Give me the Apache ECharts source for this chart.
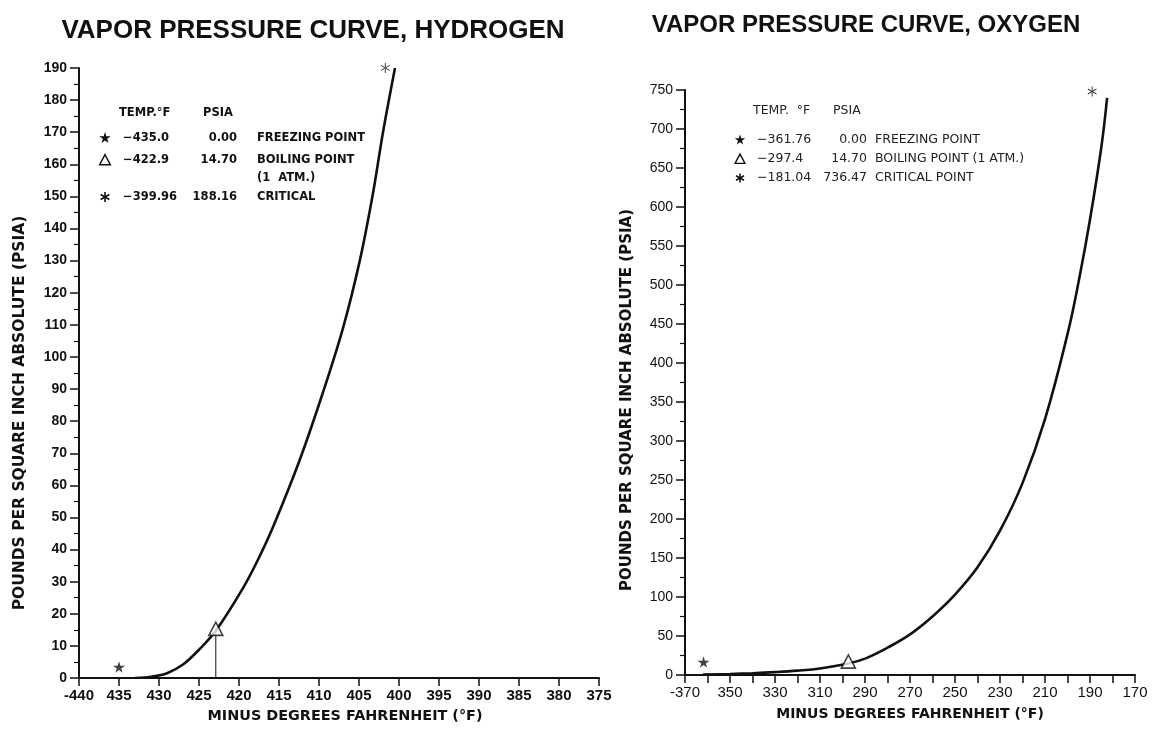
<!DOCTYPE html>
<html>
<head>
<meta charset="utf-8">
<script src="https://cdn.jsdelivr.net/npm/echarts@6/dist/echarts.min.js"></script>
<style>
  html, body { margin: 0; padding: 0; background: #ffffff; }
  #chart { width: 1154px; height: 734px; }
</style>
</head>
<body>
<div id="chart"></div>
<script>
// ---- Hydrogen vapor pressure curve (temperature °F, pressure psia) ----
const h2CurveTemp = [-433, -431, -429, -427, -425, -422.9, -419.5, -417.5, -415.75, -412.4, -409.5, -407, -404.9, -403.25, -402, -400.5];
const h2CurvePsia = [0, 0.4, 1.5, 4.2, 8.8, 14.7, 28, 37.5, 47, 68, 89, 109, 130, 151, 170, 190];

// ---- Oxygen vapor pressure curve ----
const o2CurveTemp = [-362, -350, -340, -330, -320, -310, -297.4, -290, -280, -270, -260, -250, -240, -230, -220, -210, -200, -195, -190, -185, -182.4];
const o2CurvePsia = [0.5, 1.3, 2.3, 3.7, 5.6, 8.4, 14.7, 21, 35, 52, 75, 103, 138, 185, 246, 328, 437, 505, 584, 676, 740];

// ---- Reference points: [temperature °F, psia] ----
const h2Freezing = [-435.0, 0.00];
const h2Boiling = [-422.9, 14.70];
const h2Critical = [-399.96, 188.16];
const o2Freezing = [-361.76, 0.00];
const o2Boiling = [-297.4, 14.70];
const o2Critical = [-181.04, 736.47];

// ---- Key table text ----
const h2KeyHeader = ['TEMP.°F', 'PSIA'];
const h2KeyRows = [
  ['star', '\u2212435.0', '0.00', 'FREEZING POINT'],
  ['triangle', '\u2212422.9', '14.70', 'BOILING POINT'],
  ['asterisk', '\u2212399.96', '188.16', 'CRITICAL']
];
const h2KeyNote = '(1  ATM.)';
const o2KeyHeader = ['TEMP.  °F', 'PSIA'];
const o2KeyRows = [
  ['star', '\u2212361.76', '0.00', 'FREEZING POINT'],
  ['triangle', '\u2212297.4', '14.70', 'BOILING POINT (1 ATM.)'],
  ['asterisk', '\u2212181.04', '736.47', 'CRITICAL POINT']
];

const titles = ['VAPOR PRESSURE CURVE, HYDROGEN', 'VAPOR PRESSURE CURVE, OXYGEN'];
const yName = 'POUNDS PER SQUARE INCH ABSOLUTE (PSIA)';
const xName = 'MINUS DEGREES FAHRENHEIT (°F)';

// ---- Marker shapes (0..100 box) ----
const STAR_PTS = [[50,0],[61,35],[98,35],[68,57],[79,91],[50,70],[21,91],[32,57],[2,35],[39,35]];
const TRI_PTS = [[50,5],[95,90],[5,90]];
const ptsToPath = pts => 'M' + pts.map(p => p[0] + ',' + p[1]).join(' L') + ' Z';
const STAR = ptsToPath(STAR_PTS);
const TRIANGLE = ptsToPath(TRI_PTS);
const ASTERISK = 'M45,0 L55,0 L55,100 L45,100 Z ' +
  'M90.8,79.33 L95.8,70.67 L9.2,20.67 L4.2,29.33 Z ' +
  'M4.2,70.67 L9.2,79.33 L95.8,29.33 L90.8,20.67 Z';

const INK = '#111111';
const pairs = (xs, ys) => xs.map((x, i) => [x, ys[i]]);

function markerItem(kind, pt, offset) {
  if (kind === 'star') {
    return { value: pt, symbol: 'path://' + STAR, symbolSize: 12, symbolKeepAspect: true,
      symbolOffset: offset, itemStyle: { color: INK } };
  }
  if (kind === 'triangle') {
    return { value: pt, symbol: 'path://' + TRIANGLE, symbolSize: 14, symbolKeepAspect: true,
      symbolOffset: offset, itemStyle: { color: '#ffffff', borderColor: INK, borderWidth: 1.6 } };
  }
  return { value: pt, symbol: 'path://' + ASTERISK, symbolSize: 10, symbolKeepAspect: true,
    symbolOffset: offset, itemStyle: { color: INK } };
}

// Key symbol drawn as graphic primitives centred on (cx, cy)
function keySymbol(kind, cx, cy, s) {
  const place = pts => pts.map(p => [cx + (p[0] - 50) * s / 100, cy + (p[1] - 50) * s / 100]);
  if (kind === 'star') {
    return [{ type: 'polygon', silent: true, shape: { points: place(STAR_PTS) }, style: { fill: INK } }];
  }
  if (kind === 'triangle') {
    return [{ type: 'polygon', silent: true, shape: { points: place(TRI_PTS) },
      style: { fill: 'none', stroke: INK, lineWidth: 1.4 } }];
  }
  const r = s * 0.42;
  return [0, 60, 120].map(a => {
    const t = (a + 90) * Math.PI / 180;
    return { type: 'line', silent: true,
      shape: { x1: cx - r * Math.cos(t), y1: cy - r * Math.sin(t), x2: cx + r * Math.cos(t), y2: cy + r * Math.sin(t) },
      style: { stroke: INK, lineWidth: 1.6 } };
  });
}

// Key table drawn as graphic elements
function keyGraphics(header, rows, note, o) {
  let els = [];
  const font = o.weight + ' ' + o.size + 'px "DejaVu Sans", sans-serif';
  const txt = (s, x, y, align) => ({
    type: 'text', x: x, y: y, silent: true,
    style: { text: s, font: font, fill: o.color, align: align || 'left', verticalAlign: 'middle' }
  });
  els.push(txt(header[0], o.tempX - 4, o.headY));
  els.push(txt(header[1], o.psiaHeadX, o.headY));
  rows.forEach((r, i) => {
    const y = o.rowY[i];
    els = els.concat(keySymbol(r[0], o.symX, y, o.symSize));
    els.push(txt(r[1], o.tempX, y));
    els.push(txt(r[2], o.psiaRight, y, 'right'));
    els.push(txt(r[3], o.labelX, y));
  });
  if (note) els.push(txt(note, o.labelX, o.noteY));
  return els;
}

const axisFont = 'Liberation Sans, Arial, sans-serif';

function xAxisCfg(grid, min, max, interval, fmt, bold) {
  return {
    type: 'value', gridIndex: grid, min: min, max: max, interval: interval,
    axisLine: { show: true, onZero: true, lineStyle: { color: INK, width: 2 } },
    axisTick: { show: true, inside: false, length: 8, lineStyle: { color: INK, width: 1.5 } },
    splitLine: { show: false },
    axisLabel: { show: true, showMinLabel: true, showMaxLabel: true, margin: 10, color: INK,
      fontFamily: axisFont, fontSize: 15, fontWeight: bold ? 'bold' : 'normal', formatter: fmt }
  };
}

function yAxisCfg(grid, max, interval, bold) {
  return {
    type: 'value', gridIndex: grid, min: 0, max: max, interval: interval,
    axisLine: { show: true, lineStyle: { color: INK, width: 2 } },
    axisTick: { show: true, inside: false, length: 9, lineStyle: { color: INK, width: 1.5 } },
    minorTick: { show: true, splitNumber: 2, length: 5, lineStyle: { color: INK, width: 1.2 } },
    splitLine: { show: false },
    axisLabel: { show: true, margin: 12, color: INK, fontFamily: axisFont, fontSize: 14,
      fontWeight: bold ? 'bold' : 'normal' }
  };
}

const chart = echarts.init(document.getElementById('chart'), null, { renderer: 'canvas' });

const option = {
  backgroundColor: '#ffffff',
  animation: false,
  grid: [
    { left: 79, top: 68, width: 520, height: 610 },
    { left: 685, top: 90, width: 450, height: 585 }
  ],
  xAxis: [
    xAxisCfg(0, -440, -375, 5, v => (v === -440 ? '-440' : String(-v)), true),
    xAxisCfg(1, -370, -170, 10, v => {
      if (Math.round(v + 370) % 20 !== 0) return '';
      return v === -370 ? '-370' : String(-v);
    }, false)
  ],
  yAxis: [
    yAxisCfg(0, 190, 10, true),
    yAxisCfg(1, 750, 50, false)
  ],
  series: [
    {
      name: 'Hydrogen', type: 'line', xAxisIndex: 0, yAxisIndex: 0,
      data: pairs(h2CurveTemp, h2CurvePsia), smooth: 0.35, showSymbol: false,
      lineStyle: { color: INK, width: 2.6 }, z: 3
    },
    {
      name: 'Hydrogen boiling drop', type: 'line', xAxisIndex: 0, yAxisIndex: 0,
      data: [[h2Boiling[0], 0], h2Boiling], showSymbol: false,
      lineStyle: { color: INK, width: 1 }, z: 2
    },
    {
      name: 'Hydrogen points', type: 'scatter', xAxisIndex: 0, yAxisIndex: 0, clip: false, z: 5,
      data: [
        markerItem('star', h2Freezing, [0, -11]),
        markerItem('triangle', h2Boiling, [0, -2]),
        markerItem('asterisk', h2Critical, [-14, -6])
      ]
    },
    {
      name: 'Oxygen', type: 'line', xAxisIndex: 1, yAxisIndex: 1,
      data: pairs(o2CurveTemp, o2CurvePsia), smooth: 0.4, showSymbol: false,
      lineStyle: { color: INK, width: 2.6 }, z: 3
    },
    {
      name: 'Oxygen points', type: 'scatter', xAxisIndex: 1, yAxisIndex: 1, clip: false, z: 5,
      data: [
        markerItem('star', o2Freezing, [0, -13]),
        markerItem('triangle', o2Boiling, [0, -2]),
        markerItem('asterisk', o2Critical, [-18, -9])
      ]
    }
  ],
  graphic: [].concat(
    [
      { type: 'text', x: 313, y: 31, silent: true,
        style: { text: titles[0], font: 'bold 26px "Liberation Sans", Arial, sans-serif', fill: INK, align: 'center', verticalAlign: 'middle' } },
      { type: 'text', x: 866, y: 25, silent: true,
        style: { text: titles[1], font: 'bold 24px "Liberation Sans", Arial, sans-serif', fill: INK, align: 'center', verticalAlign: 'middle' } },
      { type: 'text', x: 20, y: 413, rotation: Math.PI / 2, silent: true,
        style: { text: yName, font: 'bold 15.5px "DejaVu Sans", sans-serif', fill: INK, align: 'center', verticalAlign: 'middle' } },
      { type: 'text', x: 627, y: 400, rotation: Math.PI / 2, silent: true,
        style: { text: yName, font: 'bold 15px "DejaVu Sans", sans-serif', fill: INK, align: 'center', verticalAlign: 'middle' } },
      { type: 'text', x: 345, y: 716, silent: true,
        style: { text: xName, font: 'bold 14.4px "DejaVu Sans", sans-serif', fill: INK, align: 'center', verticalAlign: 'middle' } },
      { type: 'text', x: 910, y: 714, silent: true,
        style: { text: xName, font: 'bold 14px "DejaVu Sans", sans-serif', fill: INK, align: 'center', verticalAlign: 'middle' } }
    ],
    keyGraphics(h2KeyHeader, h2KeyRows, h2KeyNote, {
      weight: 'bold', size: 11.5, color: INK, headY: 113, rowY: [138, 160, 197], noteY: 178,
      symX: 105, symSize: 12, tempX: 123, psiaHeadX: 203, psiaRight: 237, labelX: 257
    }),
    keyGraphics(o2KeyHeader, o2KeyRows, null, {
      weight: 'normal', size: 12.5, color: '#222222', headY: 111, rowY: [140, 159, 178],
      symX: 740, symSize: 11, tempX: 757, psiaHeadX: 833, psiaRight: 867, labelX: 875
    })
  )
};

chart.setOption(option);
</script>
</body>
</html>
